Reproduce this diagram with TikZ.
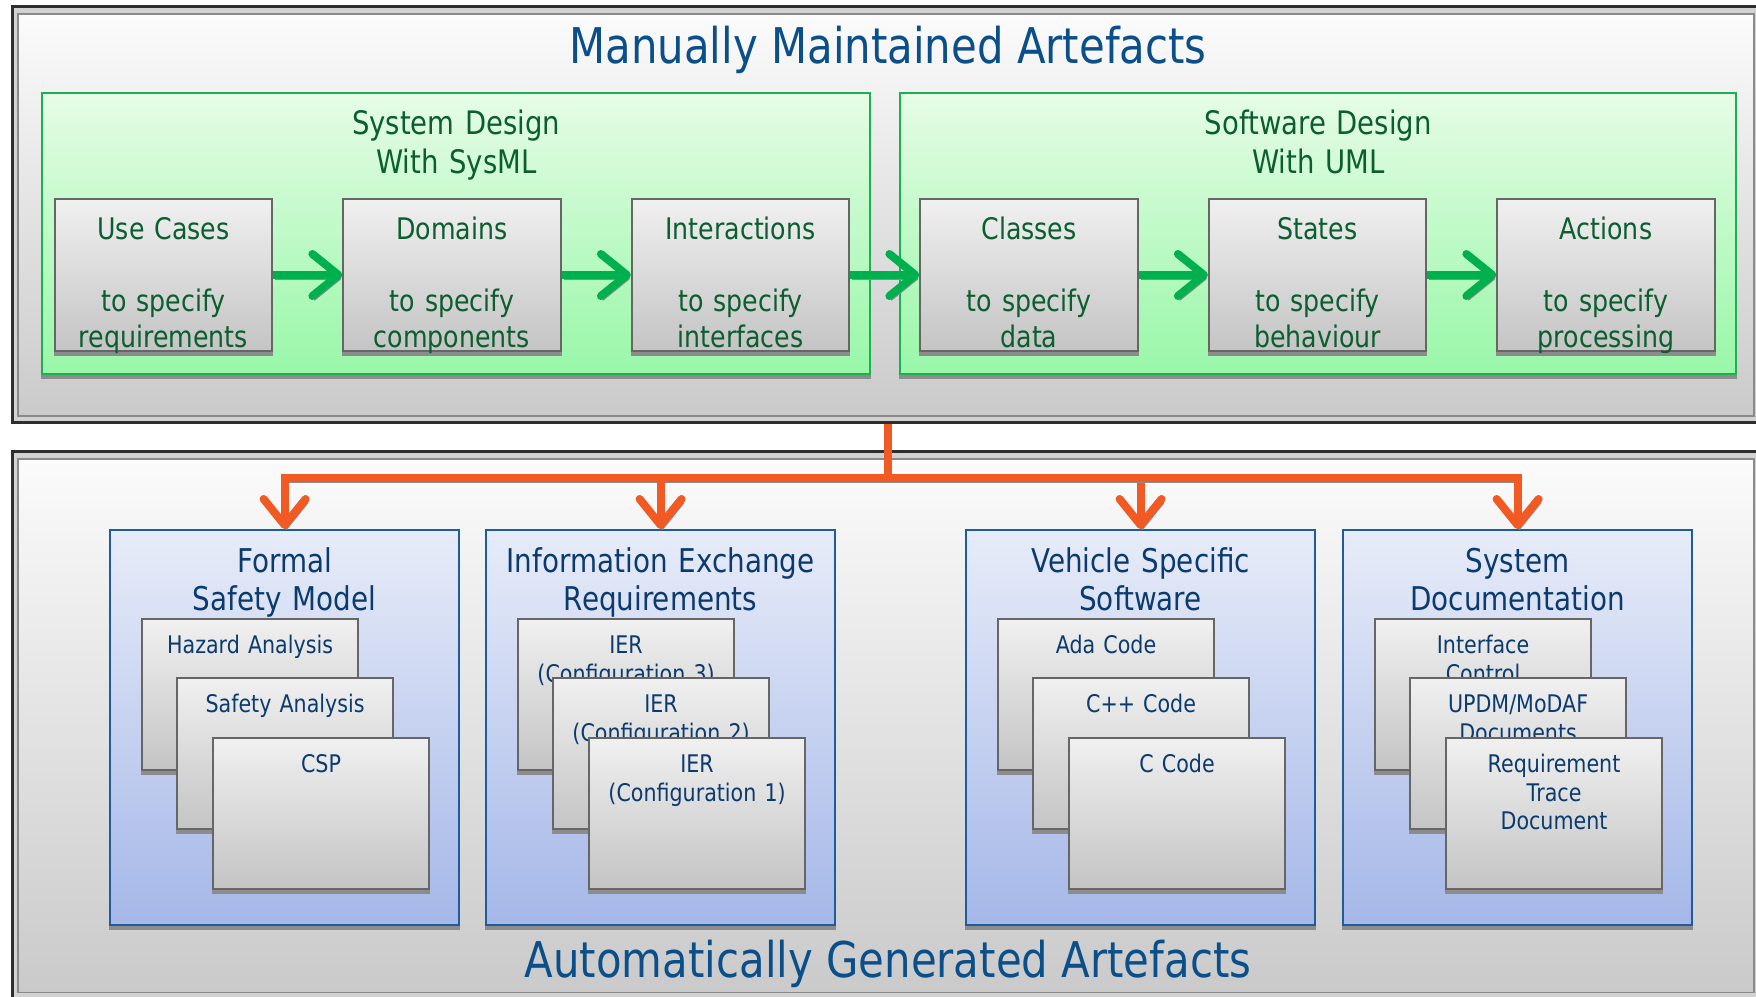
\documentclass[tikz,border=0pt]{standalone}
\usepackage{fontspec}
\setmainfont{DejaVu Sans}[FakeStretch=0.85]
\usetikzlibrary{arrows.meta,calc}

\definecolor{titleblue}{HTML}{0B4F8A}
\definecolor{navytext}{HTML}{0A3A6E}
\definecolor{greentext}{HTML}{0B5E2E}
\definecolor{greenedge}{HTML}{1DB050}
\definecolor{greentop}{HTML}{E6FCE6}
\definecolor{greenbot}{HTML}{98F7A8}
\definecolor{grayedge}{HTML}{666666}
\definecolor{graytop}{HTML}{F0F0F0}
\definecolor{graybot}{HTML}{C4C4C4}
\definecolor{blueedge}{HTML}{1F5C9E}
\definecolor{bluetop}{HTML}{E7ECF8}
\definecolor{bluebot}{HTML}{A5B7E8}
\definecolor{flowgreen}{HTML}{00B04F}
\definecolor{floworange}{HTML}{F15A22}
\definecolor{framedark}{HTML}{2E2E2E}
\definecolor{frameband}{HTML}{D2D2D2}
\definecolor{frameline}{HTML}{8A8A8A}
\definecolor{frametop}{HTML}{FBFBFB}
\definecolor{framebot}{HTML}{CACACA}
\definecolor{shadowgray}{HTML}{8C8C8C}

% thin drop shadow strip under a box
\newcommand\boxshadow[1]{\fill[shadowgray] (#1.south west) rectangle ($(#1.south east)+(0,4)$);}
% bevelled interior of a large frame
\newcommand\framebevel[1]{\fill[top color=frametop, bottom color=framebot, draw=frameline, line width=0.015cm]
  ($(#1.north west)+(7,9)$) rectangle ($(#1.south east)+(-7,-8)$);}

\tikzset{
  frame/.style={draw=framedark, line width=0.03cm, fill=frameband, inner sep=0, anchor=north west},
  groupbox/.style={draw=greenedge, line width=0.02cm, top color=greentop, bottom color=greenbot,
    inner sep=0, anchor=north west, minimum height=2.81cm},
  specbox/.style={draw=grayedge, line width=0.02cm, top color=graytop, bottom color=graybot,
    inner sep=0, minimum width=2.17cm, minimum height=1.52cm},
  outbox/.style={draw=blueedge, line width=0.02cm, top color=bluetop, bottom color=bluebot,
    inner sep=0, anchor=north west, minimum width=3.49cm, minimum height=3.95cm},
  docbox/.style={draw=grayedge, line width=0.02cm, top color=graytop, bottom color=graybot,
    inner sep=0, anchor=north west, minimum width=2.16cm, minimum height=1.51cm},
  maintitle/.style={font=\fontsize{14}{16}\selectfont, text=titleblue, anchor=base, inner sep=0},
  grouptitle/.style={font=\fontsize{9.2}{11}\selectfont, text=greentext, anchor=base, inner sep=0,
    align=center, text width=4cm},
  spectext/.style={font=\fontsize{8.45}{10}\selectfont, text=greentext, anchor=base, inner sep=0,
    align=center, text width=3cm},
  outtitle/.style={font=\fontsize{9.3}{10.8}\selectfont, text=navytext, anchor=base, inner sep=0,
    align=center, text width=3.6cm},
  doctext/.style={font=\fontsize{6.9}{8.1}\selectfont, text=navytext, anchor=base, inner sep=0,
    align=center, text width=2.2cm},
  flowarrow/.style={draw=flowgreen, line width=0.08cm,
    -{Straight Barb[length=0.26cm,width=0.42cm,round]},
    preaction={draw=shadowgray, transform canvas={shift={(2,4)}}}},
  feedline/.style={draw=floworange, line width=0.08cm, line join=miter},
  feedarrow/.style={draw=floworange, line width=0.08cm, line join=miter,
    -{Straight Barb[length=0.26cm,width=0.42cm,round]},
    preaction={draw=shadowgray, transform canvas={shift={(2,4)}}}},
}

\begin{document}
\begin{tikzpicture}[x=0.01cm, y=-0.01cm]
\useasboundingbox (0,0) rectangle (1756,997);
\clip (0,0) rectangle (1756,997);
\fill[white] (0,0) rectangle (1756,997);

% ---- the two large frames ----
\node[frame, minimum width=17.46cm, minimum height=4.16cm] (manual) at (11,5) {};
\framebevel{manual}
\node[frame, minimum width=17.46cm, minimum height=5.47cm] (generated) at (11,450) {};
\framebevel{generated}

\node[maintitle] (manualtitle) at (888,64) {Manually Maintained Artefacts};
\node[maintitle] (generatedtitle) at (888,978) {Automatically Generated Artefacts};

% ---- design groups ----
\node[groupbox, minimum width=8.28cm] (sysdesign) at (41,92) {};
\boxshadow{sysdesign}
\node[grouptitle] (sysdesigntitle) at ($(sysdesign.north)+(0,43)$) {System Design\\With SysML};

\node[groupbox, minimum width=8.36cm] (swdesign) at (899,92) {};
\boxshadow{swdesign}
\node[grouptitle] (swdesigntitle) at ($(swdesign.north)+(0,43)$) {Software Design\\With UML};

% ---- modelling steps ----
\node[specbox] (usecases) at (163.5,275) {};
\node[specbox] (domains) at (452,275) {};
\node[specbox] (interactions) at (740.5,275) {};
\node[specbox] (classes) at (1029,275) {};
\node[specbox] (states) at (1317.5,275) {};
\node[specbox] (actions) at (1606,275) {};
\foreach \b in {usecases,domains,interactions,classes,states,actions} {\boxshadow{\b}}

\node[spectext] (usecases-a) at ($(usecases.north)+(0,42)$) {Use Cases};
\node[spectext] (usecases-b) at ($(usecases.north)+(0,114)$) {to specify\\requirements};
\node[spectext] (domains-a) at ($(domains.north)+(0,42)$) {Domains};
\node[spectext] (domains-b) at ($(domains.north)+(0,114)$) {to specify\\components};
\node[spectext] (interactions-a) at ($(interactions.north)+(0,42)$) {Interactions};
\node[spectext] (interactions-b) at ($(interactions.north)+(0,114)$) {to specify\\interfaces};
\node[spectext] (classes-a) at ($(classes.north)+(0,42)$) {Classes};
\node[spectext] (classes-b) at ($(classes.north)+(0,114)$) {to specify\\data};
\node[spectext] (states-a) at ($(states.north)+(0,42)$) {States};
\node[spectext] (states-b) at ($(states.north)+(0,114)$) {to specify\\behaviour};
\node[spectext] (actions-a) at ($(actions.north)+(0,42)$) {Actions};
\node[spectext] (actions-b) at ($(actions.north)+(0,114)$) {to specify\\processing};

\draw[flowarrow] (usecases.east) -- (domains.west);
\draw[flowarrow] (domains.east) -- (interactions.west);
\draw[flowarrow] (interactions.east) -- (classes.west);
\draw[flowarrow] (classes.east) -- (states.west);
\draw[flowarrow] (states.east) -- (actions.west);

% ---- generated outputs ----
\node[outbox] (safety) at (109,529) {};
\boxshadow{safety}
\node[outtitle] (safety-t) at ($(safety.north)+(0,44)$) {Formal\\Safety Model};
\node[docbox] (hazard) at ($(safety.north west)+(32,89)$) {};
\boxshadow{hazard}
\node[doctext] (hazard-t) at ($(hazard.north)+(0,36)$) {Hazard Analysis};
\node[docbox] (safan) at ($(safety.north west)+(67,148)$) {};
\boxshadow{safan}
\node[doctext] (safan-t) at ($(safan.north)+(0,36)$) {Safety Analysis};
\node[docbox] (csp) at ($(safety.north west)+(103,208)$) {};
\boxshadow{csp}
\node[doctext] (csp-t) at ($(csp.north)+(0,36)$) {CSP};

\node[outbox] (ier) at (485,529) {};
\boxshadow{ier}
\node[outtitle] (ier-t) at ($(ier.north)+(0,44)$) {Information Exchange\\Requirements};
\node[docbox] (ier3) at ($(ier.north west)+(32,89)$) {};
\boxshadow{ier3}
\node[doctext] (ier3-t) at ($(ier3.north)+(0,36)$) {IER\\(Configuration 3)};
\node[docbox] (ier2) at ($(ier.north west)+(67,148)$) {};
\boxshadow{ier2}
\node[doctext] (ier2-t) at ($(ier2.north)+(0,36)$) {IER\\(Configuration 2)};
\node[docbox] (ier1) at ($(ier.north west)+(103,208)$) {};
\boxshadow{ier1}
\node[doctext] (ier1-t) at ($(ier1.north)+(0,36)$) {IER\\(Configuration 1)};

\node[outbox] (vehicle) at (965,529) {};
\boxshadow{vehicle}
\node[outtitle] (vehicle-t) at ($(vehicle.north)+(0,44)$) {Vehicle Specific\\Software};
\node[docbox] (ada) at ($(vehicle.north west)+(32,89)$) {};
\boxshadow{ada}
\node[doctext] (ada-t) at ($(ada.north)+(0,36)$) {Ada Code};
\node[docbox] (cpp) at ($(vehicle.north west)+(67,148)$) {};
\boxshadow{cpp}
\node[doctext] (cpp-t) at ($(cpp.north)+(0,36)$) {C++ Code};
\node[docbox] (ccode) at ($(vehicle.north west)+(103,208)$) {};
\boxshadow{ccode}
\node[doctext] (ccode-t) at ($(ccode.north)+(0,36)$) {C Code};

\node[outbox] (sysdoc) at (1342,529) {};
\boxshadow{sysdoc}
\node[outtitle] (sysdoc-t) at ($(sysdoc.north)+(0,44)$) {System\\Documentation};
\node[docbox] (icd) at ($(sysdoc.north west)+(32,89)$) {};
\boxshadow{icd}
\node[doctext] (icd-t) at ($(icd.north)+(0,36)$) {Interface\\Control};
\node[docbox] (updm) at ($(sysdoc.north west)+(67,148)$) {};
\boxshadow{updm}
\node[doctext] (updm-t) at ($(updm.north)+(0,36)$) {UPDM/MoDAF\\Documents};
\node[docbox] (rtd) at ($(sysdoc.north west)+(103,208)$) {};
\boxshadow{rtd}
\node[doctext] (rtd-t) at ($(rtd.north)+(0,36)$) {Requirement\\Trace\\Document};

% ---- generation feed ----
\coordinate (hub) at (888,478);
\draw[feedline] (manual.south -| hub) -- (hub);
\draw[feedarrow] (hub) -| (safety.north);
\draw[feedarrow] (hub) -| (ier.north);
\draw[feedarrow] (hub) -| (vehicle.north);
\draw[feedarrow] (hub) -| (sysdoc.north);
\end{tikzpicture}
\end{document}
